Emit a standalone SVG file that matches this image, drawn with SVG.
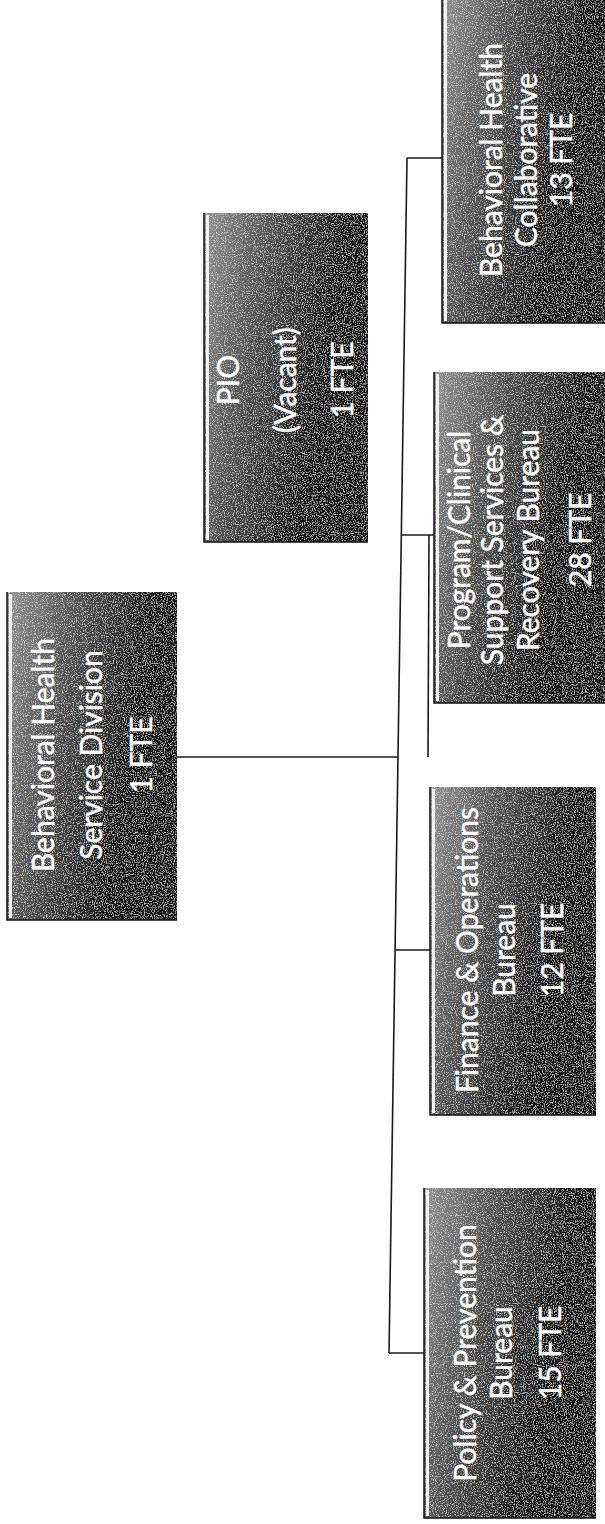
<svg xmlns="http://www.w3.org/2000/svg" width="605" height="1524" viewBox="0 0 605 1524">
<style>
.box{fill:url(#g);filter:url(#grain)}
.edge{fill:none;stroke:#111;stroke-width:1.5}
.hl{fill:none;stroke:#f2f2f2;stroke-width:3}
.t{font-family:Lato,"Liberation Sans",sans-serif;font-size:30px;fill:#fff;stroke:#fff;stroke-width:0.4;text-anchor:middle;dominant-baseline:central}
.c{fill:none;stroke:#1a1a1a;stroke-width:1.6}
</style>
<defs>
<linearGradient id="g" x1="0" y1="0" x2="1" y2="0.35">
<stop offset="0" stop-color="#939393"/>
<stop offset="0.4" stop-color="#4e4e4e"/>
<stop offset="0.8" stop-color="#181818"/>
<stop offset="1" stop-color="#121212"/>
</linearGradient>
<filter id="grain" x="0" y="0" width="1" height="1">
<feTurbulence type="fractalNoise" baseFrequency="0.9" numOctaves="2" seed="4" result="n"/>
<feColorMatrix in="n" type="matrix" values="0 0 0 0 0.85  0 0 0 0 0.85  0 0 0 0 0.85  0 0 0 2.2 -1.1" result="w"/>
<feComposite in="w" in2="SourceGraphic" operator="in" result="ws"/>
<feMerge><feMergeNode in="SourceGraphic"/><feMergeNode in="ws"/></feMerge>
</filter>
</defs>

<g id="connectors">
<path class="c" d="M177 757 H398"/>
<path class="c" d="M407 158 L389 1353"/>
<path class="c" d="M407 158 H442"/>
<path class="c" d="M401 535 H434"/>
<path class="c" d="M395 950 H430"/>
<path class="c" d="M389 1353 H424"/>
<path class="c" d="M429 535 L428 757"/>
</g>

<g id="node-bhsd">
<rect class="box" x="7" y="592" width="170" height="328"/>
<path class="hl" d="M10.5 594 V918"/>
<path class="edge" d="M7 592 V920 H177"/>
<text class="t" transform="translate(42 755) rotate(-90)">Behavioral Health</text>
<text class="t" transform="translate(90 755) rotate(-90)">Service Division</text>
<text class="t" transform="translate(140 755) rotate(-90)">1 FTE</text>
</g>

<g id="node-pio">
<rect class="box" x="204" y="213" width="164" height="329"/>
<path class="hl" d="M207.5 215 V540"/>
<path class="edge" d="M204 213 V542 H368"/>
<text class="t" transform="translate(227 380) rotate(-90)">PIO</text>
<text class="t" transform="translate(284 380) rotate(-90)">(Vacant)</text>
<text class="t" transform="translate(341 380) rotate(-90)">1 FTE</text>
</g>

<g id="node-collaborative">
<rect class="box" x="442" y="-6" width="165" height="329"/>
<path class="hl" d="M445.5 0 V321"/>
<path class="edge" d="M442 -6 V323 H607"/>
<text class="t" transform="translate(490 160) rotate(-90)">Behavioral Health</text>
<text class="t" transform="translate(525 160) rotate(-90)">Collaborative</text>
<text class="t" transform="translate(560 160) rotate(-90)">13 FTE</text>
</g>

<g id="node-program">
<rect class="box" x="434" y="372" width="171" height="331"/>
<path class="hl" d="M437.5 374 V701"/>
<path class="edge" d="M434 372 V703 H605"/>
<text class="t" transform="translate(458 540) rotate(-90)">Program/Clinical</text>
<text class="t" transform="translate(491 540) rotate(-90)">Support Services &amp;</text>
<text class="t" transform="translate(527 540) rotate(-90)">Recovery Bureau</text>
<text class="t" transform="translate(579 540) rotate(-90)">28 FTE</text>
</g>

<g id="node-finance">
<rect class="box" x="430" y="787" width="166" height="328"/>
<path class="hl" d="M433.5 789 V1113"/>
<path class="edge" d="M430 787 V1115 H596"/>
<text class="t" transform="translate(466 950) rotate(-90)">Finance &amp; Operations</text>
<text class="t" transform="translate(503 950) rotate(-90)">Bureau</text>
<text class="t" transform="translate(551 950) rotate(-90)">12 FTE</text>
</g>

<g id="node-policy">
<rect class="box" x="424" y="1188" width="172" height="330"/>
<path class="hl" d="M427.5 1190 V1516"/>
<path class="edge" d="M424 1188 V1518 H596"/>
<text class="t" transform="translate(464 1353) rotate(-90)">Policy &amp; Prevention</text>
<text class="t" transform="translate(500 1353) rotate(-90)">Bureau</text>
<text class="t" transform="translate(549 1353) rotate(-90)">15 FTE</text>
</g>
</svg>
